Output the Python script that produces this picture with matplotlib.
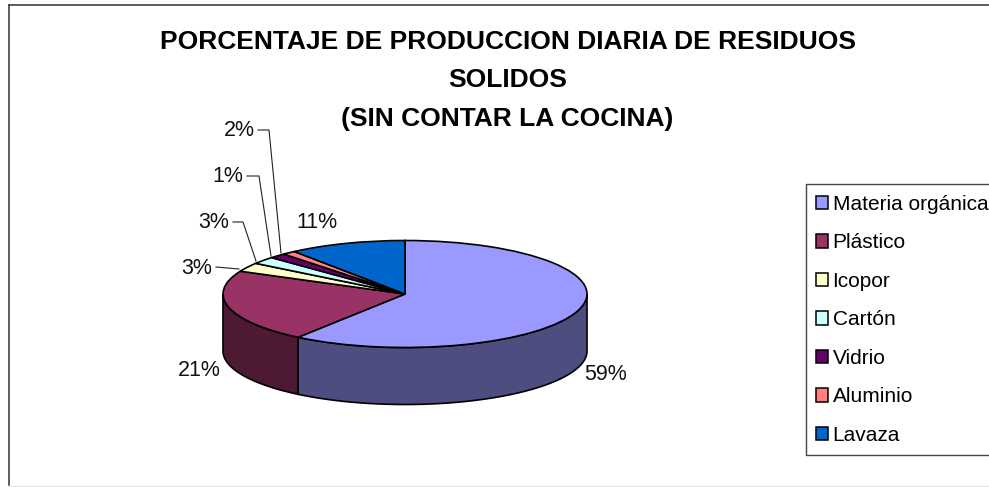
import numpy as np
from matplotlib import pyplot as plt
from matplotlib.patches import Patch, Polygon

plt.rcParams['font.family'] = ['Liberation Sans', 'DejaVu Sans']

W = 989
H = 487

title_lines = ['PORCENTAJE DE PRODUCCION DIARIA DE RESIDUOS', 'SOLIDOS', '(SIN CONTAR LA COCINA)']
categories = ['Materia orgánica', 'Plástico', 'Icopor', 'Cartón', 'Vidrio', 'Aluminio', 'Lavaza']
values = [60.0, 22.0, 2.7, 2.2, 1.5, 1.2, 10.4]
pct_labels = ['59%', '21%', '3%', '3%', '1%', '2%', '11%']
colors = ['#9999FF', '#993366', '#FFFFCC', '#CCFFFF', '#660066', '#FF8080', '#0066CC']
side_colors = ['#4D4D80', '#4D1933']

fig = plt.figure(figsize=(W / 100, H / 100), dpi=100, facecolor='white')

# overlay in pixels for the frame, texts and leader lines
over = fig.add_axes([0, 0, 1, 1])
over.set_xlim(0, W)
over.set_ylim(H, 0)
over.axis('off')
over.plot([8.5, 8.5], [485, 5], color='#303030', lw=1.1)
over.plot([8.5, W], [5, 5], color='#303030', lw=1.1)
over.plot([8.5, W], [485.5, 485.5], color='#E4E4E4', lw=1)

for s, ty in zip(title_lines, [42, 80, 119]):
    over.text(507.5, ty, s, ha='center', va='center', fontsize=19, fontweight='bold', color='black')

# pie, squashed by giving the axes a flat shape
cx, cy, rx, ry = 405, 294, 182, 53.5
depth = 57 / ry
ax = fig.add_axes([(cx - rx) / W, 1 - (cy + ry) / H, 2 * rx / W, 2 * ry / H])
wedges, _ = ax.pie(values, colors=colors, startangle=90, counterclock=False, radius=1,
                   wedgeprops={'edgecolor': 'black', 'linewidth': 1.2, 'clip_on': False, 'zorder': 3})
ax.set_aspect('auto')
ax.set_xlim(-1, 1)
ax.set_ylim(-1, 1)

# side wall of the front slices
for w, c in zip(wedges[:2], side_colors):
    t1 = max(w.theta1 % 360, 180)
    t2 = w.theta2 % 360
    if t2 <= t1:
        t2 += 360
    t2 = min(t2, 360)
    t = np.radians(np.linspace(t1, t2, 80))
    x = np.cos(t)
    y = np.sin(t)
    pts = np.r_[np.c_[x, y], np.c_[x[::-1], y[::-1] - depth]]
    ax.add_patch(Polygon(pts, closed=True, facecolor=c, edgecolor='black', linewidth=1.2,
                         clip_on=False, zorder=2))

# percentage labels, right end / centre in pixels
label_pos = [(627, 374), (221, 371), (212, 268), (229, 222), (243, 176), (255, 131), (337, 222)]
for s, (lx, ly) in zip(pct_labels, label_pos):
    over.text(lx, ly, s, ha='right', va='center', fontsize=15.5, color='#111111')

leaders = [
    ([216, 239], [267, 269]),
    ([233, 243, 256], [222, 222, 261]),
    ([247, 259, 271], [176, 176, 256]),
    ([258, 269, 281], [130, 130, 253]),
]
for lx, ly in leaders:
    over.plot(lx, ly, color='#222222', lw=0.8, zorder=6)

handles = [Patch(facecolor=c, edgecolor='black', linewidth=1.1) for c in colors]
leg = fig.legend(handles, categories, loc='upper left',
                 bbox_to_anchor=(805.5 / W, 1 - 184.5 / H), fontsize=15,
                 frameon=True, fancybox=False, edgecolor='#444444', framealpha=1,
                 borderpad=0.5, labelspacing=0.935, handlelength=0.6, handleheight=0.6,
                 handletextpad=0.2, borderaxespad=0)
leg.get_frame().set_linewidth(1)

fig.savefig('out.png', dpi=100)
